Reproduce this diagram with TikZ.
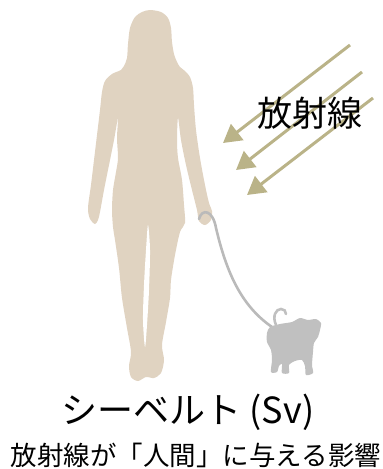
\documentclass[tikz,border=0pt]{standalone}
\usepackage{fontspec}
\setmainfont{Noto Sans CJK JP}
\usepackage{tikz}
\usetikzlibrary{arrows.meta}
\definecolor{svSkin} {RGB}{224,211,193}
\definecolor{svDog}  {RGB}{192,192,192}
\definecolor{svLeash}{RGB}{186,186,186}
\definecolor{svRay}  {RGB}{186,179,136}

\begin{document}
\begin{tikzpicture}[
  x=1pt,y=-1pt,
  >={Triangle[length=18pt,width=20pt]},
  ray/.style={->,line width=3pt,svRay},
  leash/.style={line width=2.6pt,svLeash,line cap=round},
  raytext/.style={inner sep=0pt,font=\fontsize{35}{40}\selectfont},
  unittext/.style={inner sep=0pt,font=\fontsize{36}{40}\selectfont},
  captext/.style={inner sep=0pt,font=\fontsize{26.5}{30}\selectfont}
]
\useasboundingbox (0,0) rectangle (383,469);

% woman
\fill[svSkin] plot[smooth cycle,tension=0.5] coordinates {
  (150,10) (161,12) (168,18) (171,28) (172,42) (174,54) (177,62) (180,67)
  (185,71) (190,77) (193,88) (194,105) (196,130) (200,158) (205,185)
  (209,203) (212,211) (211,220) (205,225) (199,221) (197,210) (192,190)
  (186,165) (181,140) (178,118)
  (177,140) (178,158) (182,180) (184,205) (185,223)
  (180,232) (175,255) (171,280) (170,298) (166,322) (162,345) (164,360)
  (161,373) (154,378) (146,377) (138,381) (131,377) (129,366) (131,352)
  (127,328) (122,298) (119,268) (115,240) (113,227)
  (112,210) (113,190) (116,172) (118,158) (117,138) (118,118)
  (114,140) (109,165) (104,190) (100,212) (98,220) (95,224) (90,219)
  (88,208) (91,185) (94,160) (97,135) (100,110) (102,92) (105,81)
  (112,74) (121,70) (124,66) (127,58) (128,44) (130,28) (135,17) (142,12)};
\fill[white] plot[smooth cycle,tension=0.5] coordinates {
  (148,225) (150,250) (149,290) (147,325) (145,347) (143,320) (144,285)
  (146,250)};

% leash and dog
\coordinate (grip)   at (199,219);
\coordinate (collar) at (272,327);
\draw[leash] (grip) .. controls (202,208) and (213,210) .. (216,228)
  .. controls (226,270) and (240,305) .. (collar);
\draw[line width=2.6pt,svDog,line cap=round] (276,325) .. controls (272,316) and (276,309) .. (281,309)
  .. controls (284,309) and (286,311) .. (286,314);
\fill[svDog] plot[smooth cycle,tension=0.45] coordinates {
  (270,327) (280,324) (292,322) (300,318) (308,320) (316,319) (321,323)
  (320,330) (318,337) (314,343) (313,352) (312,365) (313,373) (306,375)
  (305,366) (302,360) (295,361) (289,365) (289,373) (282,373) (282,364)
  (279,366) (277,372) (271,372) (272,360) (271,350) (267,342) (267,333)};

% rays
\coordinate (r1a) at (350,45);
\coordinate (r1b) at (223,143);
\coordinate (r2a) at (362,72);
\coordinate (r2b) at (236,170);
\coordinate (r3a) at (373,98);
\coordinate (r3b) at (247,195);
\draw[ray] (r1a) -- (r1b);
\draw[ray] (r2a) -- (r2b);
\draw[ray] (r3a) -- (r3b);

\node[raytext]  (rays)   at (310,113) {放射線};
\node[unittext] (unit)   at (188,412) {シーベルト (Sv)};
\node[captext]  (effect) at (196,455) {放射線が「人間」に与える影響};
\end{tikzpicture}
\end{document}
